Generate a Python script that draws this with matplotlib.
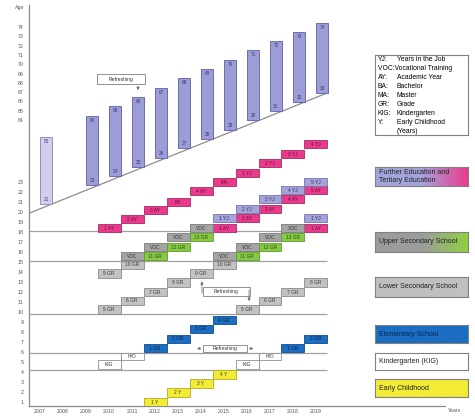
import matplotlib.pyplot as plt
from matplotlib.colors import LinearSegmentedColormap
import numpy as np

plt.rcParams['font.family'] = ['Liberation Sans', 'DejaVu Sans']

W, H = 475, 416

# x axis
years = list(range(2007, 2020))

# age axis, broken between 23 and 64
low_ages = list(range(1, 24))
high_ages = list(range(64, 75))
high_levels = [29.2, 38.5]   # where 64 and 74 sit on the axis

# working life bars
career_years = [2007, 2009, 2010, 2011, 2012, 2013, 2014, 2015, 2016, 2017, 2018, 2019]
career_start = [21, 23, 24, 25, 26, 27, 28, 29, 30, 31, 32, 33]
career_end = [50, 64, 65, 66, 67, 68, 69, 70, 71, 72, 73, 74]

# step boxes: (year, level on the age axis, label)
tertiary = [(2010, 18.4, '1 AY'), (2011, 19.3, '2 AY'), (2012, 20.2, '3 AY'),
            (2013, 21.0, 'BA'), (2014, 22.1, '4 AY'), (2015, 23.0, 'MA'),
            (2016, 23.9, '1 YJ'), (2017, 24.9, '2 YJ'), (2018, 25.8, '3 YJ'),
            (2019, 26.8, '4 YJ'),
            (2015, 18.4, '1 AY'), (2016, 19.4, '2 AY'), (2017, 20.3, '3 AY'),
            (2018, 21.3, '4 AY'), (2019, 22.2, '5 AY'), (2019, 18.4, '1 AY')]
job = [(2015, 19.4, '1 YJ'), (2016, 20.3, '2 YJ'), (2017, 21.3, '3 YJ'),
       (2018, 22.2, '4 YJ'), (2019, 23.0, '5 YJ'), (2019, 19.4, '1 YJ')]
voc = [(2011, 15.6, 'VOC'), (2012, 16.5, 'VOC'), (2013, 17.5, 'VOC'), (2014, 18.4, 'VOC'),
       (2015, 15.6, 'VOC'), (2016, 16.5, 'VOC'), (2017, 17.5, 'VOC'), (2018, 18.4, 'VOC')]
upper_sec = [(2012, 15.6, '11 GR'), (2013, 16.5, '12 GR'), (2014, 17.5, '13 GR'),
             (2016, 15.6, '11 GR'), (2017, 16.5, '12 GR'), (2018, 17.5, '13 GR')]
lower_sec = [(2010, 13.85, '9 GR'), (2011, 14.7, '10 GR'),
             (2010, 10.25, '5 GR'), (2011, 11.1, '6 GR'), (2012, 12.0, '7 GR'),
             (2013, 12.95, '8 GR'), (2014, 13.85, '9 GR'), (2015, 14.7, '10 GR'),
             (2016, 10.25, '5 GR'), (2017, 11.1, '6 GR'), (2018, 12.0, '7 GR'),
             (2019, 12.95, '8 GR')]
elementary = [(2012, 6.4, '1 GR'), (2013, 7.3, '2 GR'), (2014, 8.3, '3 GR'),
              (2015, 9.2, '4 GR'), (2018, 6.4, '1 GR'), (2019, 7.3, '2 GR')]
kindergarten = [(2010, 4.75, 'KIG'), (2016, 4.75, 'KIG')]
handover = [(2011, 5.55, 'H/O'), (2017, 5.55, 'H/O')]
early = [(2012, 1.0, '1 Y'), (2013, 1.95, '2 Y'), (2014, 2.85, '3 Y'), (2015, 3.75, '4 Y')]

section_lines = [4.2, 5.9, 9.8, 15.1, 18.1]

abbrev = [('YJ:', 'Years in the Job'), ('VOC:Vocational Training', ''),
          ('AY:', 'Academic Year'), ('BA:', 'Bachelor'), ('MA:', 'Master'),
          ('GR:', 'Grade'), ('KIG:', 'Kindergarten'), ('Y:', 'Early Childhood'),
          ('', '(Years)')]

legend_labels = ['Further Education and\nTertiary Education', 'Upper Secondary School',
                 'Lower Secondary School', 'Elementary School', 'Kindergarten (KIG)',
                 'Early Childhood']
legend_colors = [('#a4a4dc', '#ec3a8e'), ('#9c9c9c', '#8fd040'), ('#c0c0c0', '#c0c0c0'),
                 ('#1b6ec2', '#1b6ec2'), ('#ffffff', '#ffffff'), ('#f2ec36', '#f2ec36')]


def fig_box(x0, y0, x1, y1):
    return [x0 / W, 1 - y1 / H, (x1 - x0) / W, (y1 - y0) / H]


def base_level(age):
    # sloped line the working life bars stand on
    return 20.8 + (np.asarray(age, dtype=float) - 21) * 0.928


def top_level(age):
    return np.interp(age, [23, 64, 74], [23, high_levels[0], high_levels[1]]) + 0.45


fig = plt.figure(figsize=(W / 100, H / 100), dpi=100)
ax = fig.add_axes(fig_box(29, 5, 445, 406))
ax.set_xlim(2006.52, 2024.61)
ax.set_ylim(0.6, 40.7)
for s in ['top', 'right']:
    ax.spines[s].set_visible(False)
for s in ['left', 'bottom']:
    ax.spines[s].set_color('#8c8c8c')
    ax.spines[s].set_linewidth(0.9)

ax.set_xticks(years)
ax.set_xticklabels([str(y) for y in years], fontsize=3.8, color='#555555')
ax.set_yticks(low_ages + list(np.interp(high_ages, [64, 74], high_levels)))
ax.set_yticklabels([str(a) for a in low_ages + high_ages], fontsize=3.8, color='#555555')
ax.tick_params(axis='y', length=0, pad=4)
ax.tick_params(axis='x', length=0, pad=2)

# section separators
ax.hlines(section_lines, 2006.52, 2019.5, color='#a0a0a0', lw=0.9, zorder=1)
ax.vlines([y + 0.5 for y, _, _ in kindergarten], section_lines[0], section_lines[1],
          color='#a0a0a0', lw=0.8, zorder=1)

# working life bars
bottoms = base_level(career_start)
tops = top_level(career_end)
fills = ['#cfcfec'] + ['#9c9cd8'] * (len(career_years) - 1)
edges = ['#9090c0'] + ['#6c6caa'] * (len(career_years) - 1)
ax.bar(career_years, tops - bottoms, bottom=bottoms, width=0.52, align='edge',
       color=fills, edgecolor=edges, linewidth=0.7, zorder=2)
for yr, b, t, s, e in zip(career_years, bottoms, tops, career_start, career_end):
    ax.text(yr + 0.26, t - 0.45, str(e), ha='center', va='center', fontsize=3.4,
            color='#3a3a70', zorder=3)
    ax.text(yr + 0.26, b + 0.45, str(s), ha='center', va='center', fontsize=3.4,
            color='#3a3a70', zorder=3)
line_ages = np.array([career_start[0] - 1, career_start[-1]])
ax.plot(line_ages + (career_years[-1] - career_start[-1]) + 0.52, base_level(line_ages),
        color='#8c8c8c', lw=0.9, zorder=1)


def draw_boxes(items, fc, ec, tc, h=0.85):
    xs = [i[0] for i in items]
    lv = np.array([i[1] for i in items])
    ax.bar(xs, h, bottom=lv - h / 2, width=1.0, color=fc, edgecolor=ec,
           linewidth=0.6, zorder=3)
    for x, l, lab in items:
        ax.text(x, l, lab, ha='center', va='center', fontsize=3.5, color=tc, zorder=4)


draw_boxes(tertiary, '#ea3a8c', '#a82a66', '#6a1038')
draw_boxes(job, '#a4a4da', '#7474b0', '#30305a')
draw_boxes(voc, '#a4a4a4', '#7a7a7a', '#333333')
draw_boxes(upper_sec, '#86c944', '#5e9a2c', '#2a4a10')
draw_boxes(lower_sec, '#c2c2c2', '#8a8a8a', '#3a3a3a')
draw_boxes(elementary, '#1b6ec2', '#104c8c', '#0c2450')
draw_boxes(kindergarten, '#ffffff', '#909090', '#333333', h=0.9)
draw_boxes(handover, '#ffffff', '#909090', '#333333', h=0.7)
draw_boxes(early, '#f2ec36', '#b0aa20', '#444010')


def refresh_box(x0, x1, yc, h):
    ax.bar([x0], [h], bottom=[yc - h / 2], width=x1 - x0, align='edge', color='white',
           edgecolor='#808080', linewidth=0.6, zorder=5)
    ax.text((x0 + x1) / 2, yc, 'Refreshing', ha='center', va='center', fontsize=3.6,
            color='#333333', zorder=6)


arrow = dict(arrowstyle='-|>', color='#707070', lw=0.6, mutation_scale=4)
refresh_box(2009.48, 2011.57, 33.3, 1.0)
ax.annotate('', xy=(2011.26, 31.9), xytext=(2011.26, 32.8), arrowprops=arrow, zorder=6)
refresh_box(2014.09, 2016.13, 12.05, 0.9)
ax.annotate('', xy=(2014.04, 13.35), xytext=(2014.04, 11.6), arrowprops=arrow, zorder=6)
ax.annotate('', xy=(2016.09, 10.8), xytext=(2016.09, 12.5), arrowprops=arrow, zorder=6)
refresh_box(2014.09, 2016.0, 6.35, 0.75)
ax.annotate('', xy=(2013.7, 6.35), xytext=(2014.09, 6.35), arrowprops=arrow, zorder=6)
ax.annotate('', xy=(2016.4, 6.35), xytext=(2016.0, 6.35), arrowprops=arrow, zorder=6)

fig.text(20 / W, 1 - 7 / H, 'Age', ha='center', va='center', fontsize=3.8, color='#555555')
fig.text(455 / W, 1 - 411 / H, 'Years', ha='center', va='center', fontsize=3.8,
         color='#555555')

# abbreviations box
ab = fig.add_axes(fig_box(375, 55, 468, 135))
ab.set_xticks([])
ab.set_yticks([])
for s in ab.spines.values():
    s.set_color('#808080')
    s.set_linewidth(0.8)
for i, (k, v) in enumerate(abbrev):
    yy = 1 - (4 + i * 9.1) / 80
    ab.text(0.03, yy, k, ha='left', va='center', fontsize=4.9, transform=ab.transAxes)
    ab.text(0.235, yy, v, ha='left', va='center', fontsize=4.9, transform=ab.transAxes)

# school level legend
legend_boxes = [(167, 186), (232, 252), (277, 297), (325, 343), (353, 370), (379, 397)]
for lab, (c0, c1), (y0, y1) in zip(legend_labels, legend_colors, legend_boxes):
    lax = fig.add_axes(fig_box(375, y0, 468, y1))
    cmap = LinearSegmentedColormap.from_list('g', [c0, c0, c1])
    lax.imshow(np.linspace(0, 1, 256)[None, :], cmap=cmap, aspect='auto',
               extent=[0, 1, 0, 1])
    lax.set_xticks([])
    lax.set_yticks([])
    for s in lax.spines.values():
        s.set_color('#808080')
        s.set_linewidth(0.8)
    tc = '#0c2450' if lab == 'Elementary School' else '#222222'
    lax.text(0.04, 0.5, lab, ha='left', va='center', fontsize=5, color=tc,
             linespacing=1.0, transform=lax.transAxes)

fig.savefig('out.png', dpi=100)
